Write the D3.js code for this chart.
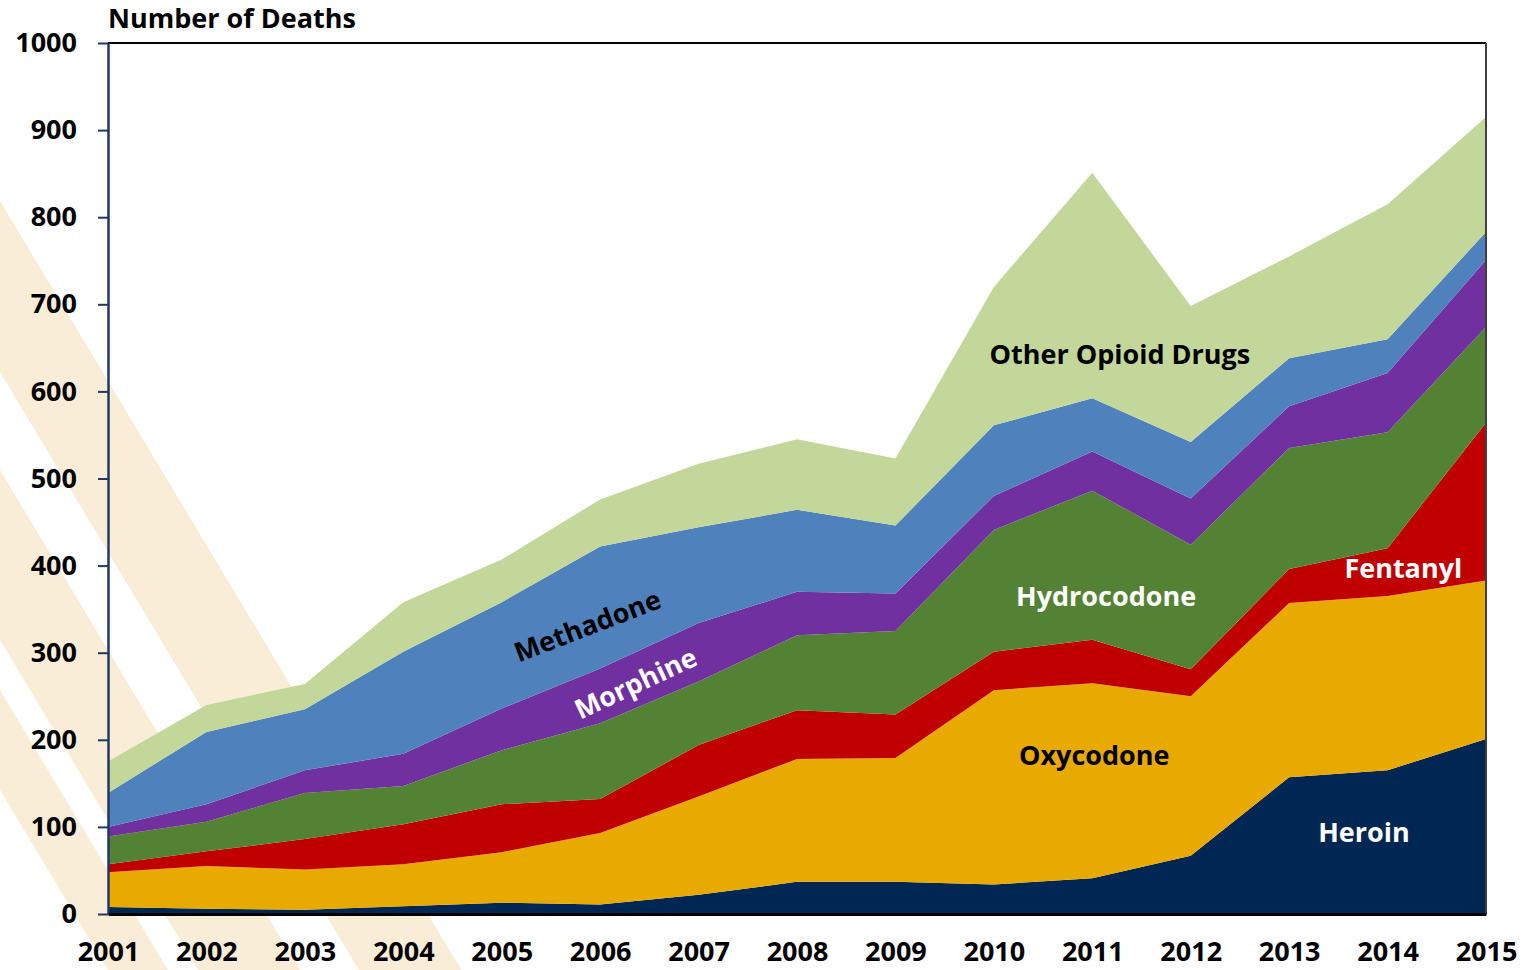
<!DOCTYPE html>
<html>
<head>
<meta charset="utf-8">
<script src="https://cdn.jsdelivr.net/npm/d3@7"></script>
<style>
  body { margin: 0; background: #fff; }
  svg { display: block; }
  text { font-family: "Open Sans", Lato, sans-serif; font-weight: bold; }
</style>
</head>
<body>
<div id="chart"></div>
<script>
// data (deaths per year, by drug)
var years = [2001, 2002, 2003, 2004, 2005, 2006, 2007, 2008, 2009, 2010, 2011, 2012, 2013, 2014, 2015];
var keys = ["Heroin", "Oxycodone", "Fentanyl", "Hydrocodone", "Morphine", "Methadone", "Other Opioid Drugs"];

var heroin      = [8, 6, 5, 9, 13, 11, 22, 37, 37, 34, 41, 67, 157, 165, 201];
var oxycodone   = [40, 49, 46, 48, 58, 82, 113, 141, 142, 223, 224, 183, 200, 200, 182];
var fentanyl    = [9, 17, 35, 46, 55, 39, 59, 56, 50, 44, 50, 31, 39, 55, 181];
var hydrocodone = [32, 34, 53, 44, 62, 87, 73, 86, 96, 140, 171, 143, 139, 133, 110];
var morphine    = [11, 20, 26, 37, 48, 63, 67, 50, 43, 39, 45, 53, 48, 68, 77];
var methadone   = [39, 83, 70, 117, 122, 140, 110, 94, 78, 81, 61, 65, 55, 39, 32];
var otherDrugs  = [36, 31, 29, 57, 49, 54, 73, 81, 77, 159, 259, 156, 117, 155, 132];

var yTicks = [0, 100, 200, 300, 400, 500, 600, 700, 800, 900, 1000];

var colors = ["#002654", "#E9AA00", "#C00000", "#548235", "#7030A0", "#4F81BD", "#C4D79B"];

// area labels: [text, year, value, angle, fill]
var labels = [
  ["Other Opioid Drugs", 2011.28, 643, 0, "#000"],
  ["Methadone", 2005.87, 331, -21, "#000"],
  ["Morphine", 2006.36, 265, -25, "#fff"],
  ["Hydrocodone", 2011.14, 365, 0, "#fff"],
  ["Fentanyl", 2014.16, 397, 0, "#fff"],
  ["Oxycodone", 2011.02, 182, 0, "#000"],
  ["Heroin", 2013.76, 94, 0, "#fff"]
];

var series = [heroin, oxycodone, fentanyl, hydrocodone, morphine, methadone, otherDrugs];
var table = years.map(function(yr, i) {
  var row = { year: yr };
  keys.forEach(function(k, j) { row[k] = series[j][i]; });
  return row;
});

var W = 1528, H = 970;
var margin = { top: 43, right: 42, bottom: 56, left: 108 };
var width = W - margin.left - margin.right;
var height = H - margin.top - margin.bottom;

var svg = d3.select("#chart").append("svg")
  .attr("width", W)
  .attr("height", H);

// decorative beige bands behind the chart (y where each band meets x=0)
var bands = [[201, 372], [470, 640], [690, 790]];
var slope = 0.6;
svg.append("g").attr("class", "bands")
  .selectAll("polygon")
  .data(bands)
  .enter()
  .append("polygon")
  .attr("points", function(d) {
    var top = -100, bot = 1100;
    return [
      [slope * (top - d[0]), top],
      [slope * (bot - d[0]), bot],
      [slope * (bot - d[1]), bot],
      [slope * (top - d[1]), top]
    ].map(function(p) { return p.join(","); }).join(" ");
  })
  .attr("fill", "#FAEDD8");

var g = svg.append("g")
  .attr("transform", "translate(" + margin.left + "," + margin.top + ")");

var x = d3.scaleLinear().domain([2001, 2015]).range([0, width]);
var y = d3.scaleLinear().domain([0, 1000]).range([height, 0]);

var stack = d3.stack().keys(keys);
var stacked = stack(table);

var area = d3.area()
  .x(function(d) { return x(d.data.year); })
  .y0(function(d) { return y(d[0]); })
  .y1(function(d) { return y(d[1]); });

g.selectAll(".layer")
  .data(stacked)
  .enter()
  .append("path")
  .attr("class", "layer")
  .attr("d", area)
  .attr("fill", function(d, i) { return colors[i]; });

// frame: top and right
g.append("line")
  .attr("x1", 0).attr("x2", width)
  .attr("y1", 0).attr("y2", 0)
  .attr("stroke", "#000")
  .attr("stroke-width", 2);
g.append("line")
  .attr("x1", width).attr("x2", width)
  .attr("y1", 0).attr("y2", height)
  .attr("stroke", "#404040")
  .attr("stroke-width", 2);

// y axis
var yAxis = g.append("g")
  .attr("class", "y-axis")
  .call(d3.axisLeft(y).tickValues(yTicks).tickFormat(d3.format("d"))
    .tickSizeInner(10).tickSizeOuter(0).tickPadding(21));
yAxis.select(".domain").attr("stroke", "#1F3864").attr("stroke-width", 2.5);
yAxis.selectAll(".tick line").attr("stroke", "#1F3864").attr("stroke-width", 2);
yAxis.selectAll("text")
  .attr("fill", "#000")
  .style("font-size", "27px")
  .style("font-family", "'Open Sans', sans-serif")
  .style("font-weight", "bold");

// x axis
var xAxis = g.append("g")
  .attr("class", "x-axis")
  .attr("transform", "translate(0," + height + ")")
  .call(d3.axisBottom(x).tickValues(years).tickFormat(d3.format("d")).tickSize(0).tickPadding(28));
xAxis.select(".domain").attr("stroke", "#000").attr("stroke-width", 3);
xAxis.selectAll("text")
  .attr("fill", "#000")
  .style("font-size", "27px")
  .style("font-family", "'Open Sans', sans-serif")
  .style("font-weight", "bold");

// title
svg.append("text")
  .attr("x", margin.left)
  .attr("y", 28)
  .attr("fill", "#000")
  .style("font-size", "27px")
  .text("Number of Deaths");

// labels in the areas
g.selectAll(".area-label")
  .data(labels)
  .enter()
  .append("text")
  .attr("class", "area-label")
  .attr("transform", function(d) {
    return "translate(" + x(d[1]) + "," + y(d[2]) + ") rotate(" + d[3] + ")";
  })
  .attr("text-anchor", "middle")
  .attr("dy", "0.36em")
  .attr("fill", function(d) { return d[4]; })
  .style("font-size", "27px")
  .text(function(d) { return d[0]; });
</script>
</body>
</html>
